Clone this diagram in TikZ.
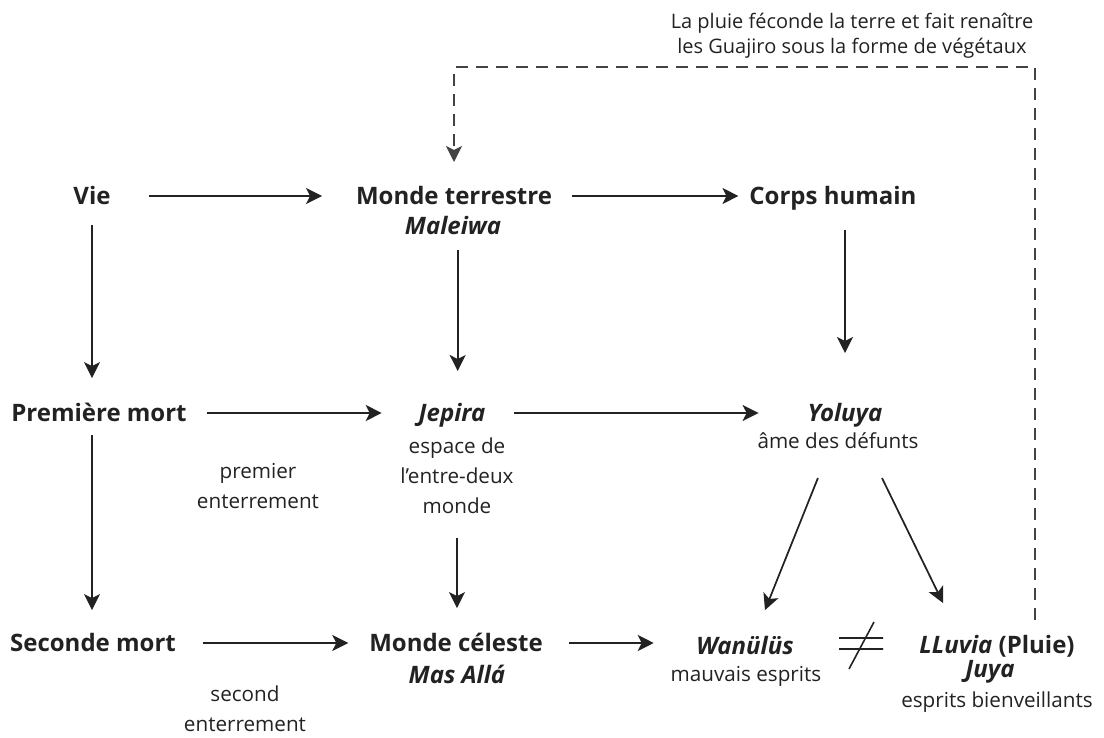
\documentclass[tikz,border=0pt]{standalone}
\usepackage{fontspec}
\setmainfont{Open Sans}
\usetikzlibrary{arrows.meta}
\definecolor{encre}{HTML}{222222}
\tikzset{
  titre/.style={inner sep=0pt, outer sep=0pt, text=encre, font=\fontsize{18}{22}\selectfont\bfseries, text height=13pt, text depth=0pt},
  nom/.style={titre, font=\fontsize{18}{22}\selectfont\bfseries\itshape},
  sous/.style={inner sep=0pt, outer sep=0pt, text=encre, font=\fontsize{15.5}{22.5}\selectfont, text height=8.3pt, text depth=0pt},
  texte/.style={inner sep=0pt, outer sep=0pt, text=encre, align=center, font=\fontsize{15.5}{22.5}\selectfont},
  fl/.style={draw=encre, line width=1.3pt, -{Stealth[length=12pt,width=12pt,inset=3pt]}},
  retour/.style={fl, draw=encre!85, dash pattern=on 9pt off 6pt},
  neq/.style={draw=encre, line width=1.2pt},
}

\begin{document}
\begin{tikzpicture}[x=0.75pt, y=-0.75pt]
\useasboundingbox (0,0) rectangle (1104,738);
\node[titre] (vie) at (92,196) {Vie};
\node[titre] (terre) at (454,196) {Monde terrestre};
\node[nom] (maleiwa) at (453,226) {Maleiwa};
\node[titre] (corps) at (833,196) {Corps humain};
\node[titre] (mort1) at (99,413) {Première mort};
\node[nom] (jepira) at (452,413) {Jepira};
\node[texte] (entre) at (457,476) {espace de\\l'entre-deux\\monde};
\node[nom] (yoluya) at (845,413) {Yoluya};
\node[sous] (ame) at (838,443) {âme des défunts};
\node[texte] (enterr1) at (258,486) {premier\\enterrement};
\node[titre] (mort2) at (93,643) {Seconde mort};
\node[titre] (celeste) at (456,643) {Monde céleste};
\node[nom] (masalla) at (457,675) {Mas Allá};
\node[texte] (enterr2) at (245,709) {second\\enterrement};
\node[nom] (wanulus) at (745,646) {Wanülüs};
\node[sous] (mauvais) at (746,676) {mauvais esprits};
\node[titre] (lluvia) at (997,645) {\textit{LLuvia} (Pluie)};
\node[nom] (juya) at (990,669) {Juya};
\node[sous] (bienv) at (997,702) {esprits bienveillants};
\node[texte, font=\fontsize{15}{18.75}\selectfont] (note) at (852,36) {La pluie féconde la terre et fait renaître\\les Guajiro sous la forme de végétaux};

\draw[fl, shorten <=28.5pt, shorten >=25.5pt] (vie) -- (terre);
\draw[fl, shorten <=15pt, shorten >=8.25pt] (terre) -- (corps);
\draw[fl, shorten <=15.2pt, shorten >=19.7pt] (vie) -- (vie |- mort1.north);
\draw[fl, shorten <=11.5pt, shorten >=25pt] ([xshift=3.5pt]maleiwa.south) -- ([xshift=3.5pt]maleiwa.south |- jepira.north);
\draw[fl, shorten <=19pt, shorten >=38.5pt] (yoluya |- corps.south) -- (yoluya);
\draw[fl, shorten <=15pt, shorten >=27.75pt] (mort1) -- (jepira);
\draw[fl, shorten <=21.75pt, shorten >=36.75pt] (jepira) -- (yoluya);
\draw[fl, shorten <=10pt, shorten >=18.2pt] (vie |- mort1.south) -- (vie |- mort2.north);
\draw[fl, shorten <=18pt, shorten >=19.7pt] (entre) -- (entre |- celeste.north);
\draw[fl, shorten <=20pt, shorten >=15.75pt] (mort2) -- (celeste);
\draw[fl, shorten <=20pt, shorten >=32pt] (celeste) -- (celeste -| wanulus.west);
\draw[fl, shorten <=23.8pt, shorten >=22pt] ([xshift=-6.2pt]ame.south) -- ([xshift=6.8pt]wanulus.north);
\draw[fl, shorten <=24.6pt, shorten >=27.8pt] ([xshift=22.2pt]ame.south) -- ([xshift=-28.3pt]lluvia.north);
\draw[neq] (839,638) -- (883,638) (839,649) -- (883,649) (849,669) -- (874,622);
\draw[retour, shorten <=12.2pt, shorten >=19pt] ([xshift=28.5pt]lluvia.north) -- ++(0,-569) -| (terre.north);
\end{tikzpicture}
\end{document}
